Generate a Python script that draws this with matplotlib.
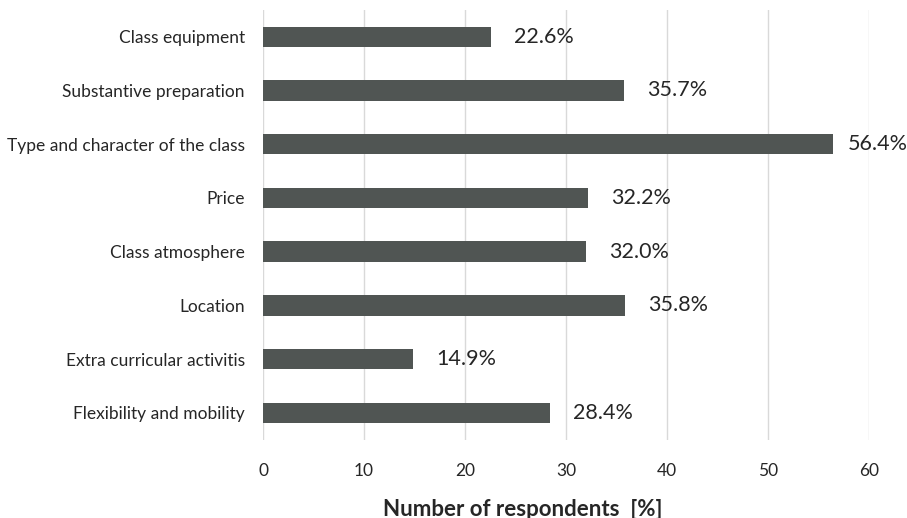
import matplotlib.pyplot as plt

plt.rcParams['font.family'] = ['Lato', 'DejaVu Sans']

categories = ['Class equipment', 'Substantive preparation', 'Type and character of the class',
              'Price', 'Class atmosphere', 'Location', 'Extra curricular activitis',
              'Flexibility and mobility']
values = [22.6, 35.7, 56.4, 32.2, 32.0, 35.8, 14.9, 28.4]
xticks = [0, 10, 20, 30, 40, 50, 60]

fig = plt.figure(figsize=(9.07, 5.18), dpi=100)
ax = fig.add_axes([0.29, 0.151, 0.668, 0.83])

ypos = list(range(len(categories)))[::-1]
ax.barh(ypos, values, height=0.38, color='#505553', zorder=3)

# labels sit ~2.3 units past the bar, pulled in where they'd run off the figure
for y, v in zip(ypos, values):
    ax.text(min(v + 2.3, 57.9), y, f'{v:.1f}%', va='center', ha='left',
            fontsize=15.5, color='#262626', clip_on=False)

ax.set_xlim(0, 60)
ax.set_ylim(-0.5, len(categories) - 0.5)
ax.set_xticks(xticks)
ax.set_yticks(ypos)
ax.set_yticklabels(categories)
ax.tick_params(axis='y', length=0, pad=13, labelsize=12.5, labelcolor='#262626')
ax.tick_params(axis='x', length=0, pad=17, labelsize=12.5, labelcolor='#262626')
ax.grid(axis='x', color='#d9d9d9', lw=1, zorder=0)
for s in ax.spines.values():
    s.set_visible(False)

ax.set_xlabel('Number of respondents  [%]', fontsize=16, fontweight='bold',
              color='#262626', labelpad=14)
ax.xaxis.label.set_x(0.429)

fig.savefig('out.png', dpi=100)
